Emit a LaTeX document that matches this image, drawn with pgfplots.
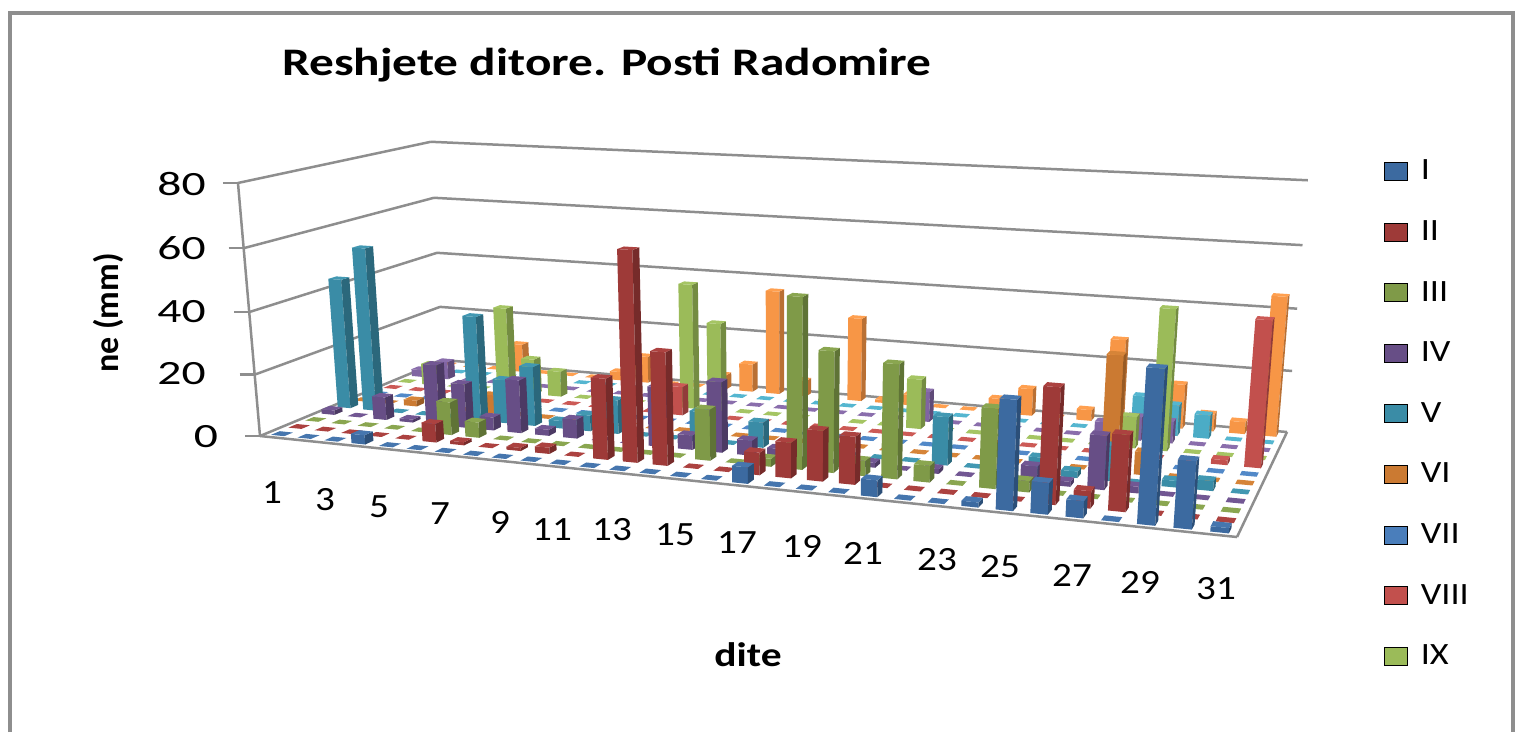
\documentclass[border=0pt]{standalone}
\usepackage{pgfplots}
\usepackage{pgfplotstable}
\usepackage{fontspec}
\setmainfont{Carlito}
\pgfplotsset{compat=1.18}
% daily precipitation (mm) per month
\pgfplotstableread{
day I II III IV V VI VII VIII IX X XI XII
1 0 0 0 1.5 43.5 0 0 0 0 2.5 0 0
2 0 0 0 0 54.4 0 0 0 7.3 6.2 0 0
3 0 0 0 7.6 0 2 0 0 0 0 0 0
4 3 0 0 1 0 0 0 0 0 0 0 10
5 0 0 0 19.9 0 0 0 0 29.3 0 0 0
6 0 6 10.7 14.4 34.5 6.2 0 0 12.2 0 0 0
7 0 1 5 4.3 14.4 0 0 0 8.7 0 0 0
8 0 0 0 17.3 19.5 0 0 0 0 0 0 3
9 0 1 0 2 2.5 0 0 0 0 0 0 9.3
10 0 2 0 6.2 5.2 0 0 0 0 0 0 0
11 0 0 0 0 11 0 0 0 0 0 0 0
12 0 25.3 0 0 0 0 0 9.6 41.9 0 0 5
13 0 64.7 0 19 0 0 0 0 29.5 0 0 9.6
14 0 34.9 0 4.6 9.7 0 0 0 0 0 0 35.7
15 0 0 16 22.3 0 0 0 0 0 0 0 5.4
16 0 0 0 4.8 8.1 0 0 0 0 0 0 0
17 5 6.9 2.5 3 0 0 0 0 0 0 0 28.4
18 0 10.9 52.3 0 0 0 0 0 0 0 0 1
19 0 15.4 36.9 0 0 0 0 0 0 0 0 3.6
20 0 14.5 4.7 1.5 0 0 0 0 16.3 10 0 0
21 5 0 34.6 0 0 0 0 0 0 0 0 0
22 0 0 5.1 1.5 15 0 0 0 0 0 0 4.8
23 0 0 0 0 0 0 0 0 0 0 0 9
24 1.5 0 24 0 0 0 0 0 0 0 0 0
25 31.9 0 3.4 5.2 5.2 0 0 0 0 0 0 3.6
26 9.2 34 0 1.5 2 0 0 0 0 5 0 27.6
27 5 5.1 0 16.2 10.7 35.6 0 0 10 7.6 12 0
28 0 22.2 0 2 0 7 0 0 44.5 7 10 14.5
29 43.7 0 0 0 2 0 0 0 0 0 7.6 5.6
30 19.2 0 0 0 3 0 0 1.5 0 0 0 3.9
31 1.5 0 0 0 0 0 0 45 0 0 0 44.9
}\rain

% front face, side face, top face colours
\definecolor{F1}{HTML}{3C6AA0}\definecolor{S1}{HTML}{2C4F78}\definecolor{T1}{HTML}{4676AE}
\definecolor{F2}{HTML}{9E3A38}\definecolor{S2}{HTML}{762B2A}\definecolor{T2}{HTML}{AC4240}
\definecolor{F3}{HTML}{7F9A48}\definecolor{S3}{HTML}{5F7336}\definecolor{T3}{HTML}{8AA650}
\definecolor{F4}{HTML}{674E86}\definecolor{S4}{HTML}{4C3A64}\definecolor{T4}{HTML}{725793}
\definecolor{F5}{HTML}{3A8CA6}\definecolor{S5}{HTML}{2B687C}\definecolor{T5}{HTML}{4298B2}
\definecolor{F6}{HTML}{CB7A32}\definecolor{S6}{HTML}{985B25}\definecolor{T6}{HTML}{D68438}
\definecolor{F7}{HTML}{4A7EBB}\definecolor{S7}{HTML}{375E8C}\definecolor{T7}{HTML}{5289C8}
\definecolor{F8}{HTML}{C2504D}\definecolor{S8}{HTML}{913C3A}\definecolor{T8}{HTML}{CC5A56}
\definecolor{F9}{HTML}{9BBB59}\definecolor{S9}{HTML}{748C42}\definecolor{T9}{HTML}{A5C563}
\definecolor{F10}{HTML}{8064A2}\definecolor{S10}{HTML}{604B79}\definecolor{T10}{HTML}{8A6EAC}
\definecolor{F11}{HTML}{4BACC6}\definecolor{S11}{HTML}{388194}\definecolor{T11}{HTML}{55B6D0}
\definecolor{F12}{HTML}{F79646}\definecolor{S12}{HTML}{B97034}\definecolor{T12}{HTML}{FFA050}
\definecolor{gridg}{HTML}{8E8E8E}

% projection of (u,v,w) on the picture
\newcommand\proj[5]{%
  \pgfmathsetmacro\dd{1-0.16157*(#1)+0.16715*(#2)-0.0403*(#3)}%
  \pgfmathsetmacro#4{(777.13*(#1)+257.05*(#2)+260-31.59*(#3))/\dd}%
  \pgfmathsetmacro#5{(14.24*(#1)-15.83*(#2)+436-260.4*(#3))/\dd}%
}
\newcommand\lineplot[7][gridg]{% colour, u v w -- u v w
  \proj{#2}{#3}{#4}\xa\ya \proj{#5}{#6}{#7}\xb\yb
  \edef\tmp{\noexpand\addplot[#1,line width=1.25pt,forget plot] coordinates {(\xa,\ya) (\xb,\yb)};}\tmp
}
\newcommand\poly[2]{%
  \edef\tmp{\noexpand\addplot[fill=#1,draw=none,forget plot] coordinates {#2};}\tmp
}
\newcommand\onebar[3]{% row, day, value
  \pgfmathsetmacro\ul{(#2-0.75)/31}\pgfmathsetmacro\ur{(#2-0.25)/31}%
  \pgfmathsetmacro\vf{(#1-0.75)/12}\pgfmathsetmacro\vb{(#1-0.25)/12}%
  \pgfmathsetmacro\ww{#3/80}%
  \proj\ul\vf\ww\xA\yA \proj\ur\vf\ww\xB\yB \proj\ur\vb\ww\xC\yC \proj\ul\vb\ww\xD\yD
  \ifdim#3pt>0pt
    \proj\ul\vf{0}\xE\yE \proj\ur\vf{0}\xF\yF \proj\ur\vb{0}\xG\yG
    \poly{F#1}{(\xE,\yE) (\xF,\yF) (\xB,\yB) (\xA,\yA)}%
    \poly{S#1}{(\xF,\yF) (\xG,\yG) (\xC,\yC) (\xB,\yB)}%
  \fi
  \poly{T#1}{(\xA,\yA) (\xB,\yB) (\xC,\yC) (\xD,\yD)}%
}
\newcommand\lab[4][1]{\node[font=\fontsize{#2}{#2}\selectfont,inner sep=0pt] at (axis cs:#3) {\scalebox{#1}[1]{#4}};}

\begin{document}
\begin{tikzpicture}
\begin{axis}[
  scale only axis, width=757.5pt, height=366pt,
  xmin=0, xmax=1515, ymin=0, ymax=732, y dir=reverse,
  hide axis, clip=false,
  legend style={draw=none,fill=none,at={(axis cs:1384,160)},anchor=north west,
    row sep=18.85pt,inner sep=0pt,outer sep=0pt,
    font=\fontsize{15.5}{15.5}\selectfont,
    nodes={inner sep=0pt,outer sep=0pt,anchor=west}},
  legend cell align=left,
  legend image code/.code={\fill[#1] (0pt,-4.5pt) rectangle (11.5pt,4.5pt);},
]
% frame
\addplot[draw=none,forget plot] coordinates {(0,0) (1515,732)};
\addplot[gridg,line width=1.7pt,forget plot] coordinates {(10,732) (10,13) (1513,13) (1513,732)};

\addlegendimage{fill=F1}\addlegendentry{\hspace*{6.5pt}\scalebox{1.17}[1]{I}}
\addlegendimage{fill=F2}\addlegendentry{\hspace*{6.5pt}\scalebox{1.17}[1]{II}}
\addlegendimage{fill=F3}\addlegendentry{\hspace*{6.5pt}\scalebox{1.17}[1]{III}}
\addlegendimage{fill=F4}\addlegendentry{\hspace*{6.5pt}\scalebox{1.17}[1]{IV}}
\addlegendimage{fill=F5}\addlegendentry{\hspace*{6.5pt}\scalebox{1.17}[1]{V}}
\addlegendimage{fill=F6}\addlegendentry{\hspace*{6.5pt}\scalebox{1.17}[1]{VI}}
\addlegendimage{fill=F7}\addlegendentry{\hspace*{6.5pt}\scalebox{1.17}[1]{VII}}
\addlegendimage{fill=F8}\addlegendentry{\hspace*{6.5pt}\scalebox{1.17}[1]{VIII}}
\addlegendimage{fill=F9}\addlegendentry{\hspace*{6.5pt}\scalebox{1.17}[1]{IX}}

% walls
\foreach \lv in {0,0.25,0.5,0.75,1}{
  \lineplot{0}{0}{\lv}{0}{1}{\lv}
  \lineplot{0}{1}{\lv}{1}{1}{\lv}
  \proj{0}{0}{\lv}\xa\ya
  \pgfmathsetmacro\xb{\xa-15}
  \edef\tmp{\noexpand\addplot[gridg,line width=1.25pt,forget plot] coordinates {(\xb,\ya) (\xa,\ya)};}\tmp
}
\lineplot{0}{0}{0}{0}{0}{1}
\lineplot{0}{0}{0}{1}{0}{0}
\lineplot{1}{0}{0}{1}{1}{0}

% bars, back row first
\foreach \r/\m in {12/XII,11/XI,10/X,9/IX,8/VIII,7/VII,6/VI,5/V,4/IV,3/III,2/II,1/I}{
  \foreach \d in {1,...,31}{
    \pgfmathtruncatemacro\idx{\d-1}
    \pgfplotstablegetelem{\idx}{\m}\of\rain
    \let\val\pgfplotsretval
    \onebar{\r}{\d}{\val}
  }
}

% texts
\lab[1.265]{19.5}{607,65}{\textbf{Reshjete ditore. Posti Radomire}}
\lab[1.4]{17}{181.5,184}{80}
\lab[1.4]{17}{181.5,248}{60}
\lab[1.4]{17}{181.5,312}{40}
\lab[1.4]{17}{181.5,374}{20}
\lab[1.4]{17}{206,437}{0}
\lab[1.15]{17}{272,493}{1}
\lab[1.15]{17}{325,500}{3}
\lab[1.15]{17}{379,507}{5}
\lab[1.15]{17}{440,514}{7}
\lab[1.15]{17}{500,522}{9}
\lab[1.15]{17}{552,530}{11}
\lab[1.15]{17}{612,530}{13}
\lab[1.15]{17}{675,535}{15}
\lab[1.15]{17}{737,543}{17}
\lab[1.15]{17}{802,546}{19}
\lab[1.15]{17}{863,553}{21}
\lab[1.15]{17}{937,560}{23}
\lab[1.15]{17}{1000,567}{25}
\lab[1.15]{17}{1072,575}{27}
\lab[1.15]{17}{1140,582}{29}
\lab[1.15]{17}{1216,589}{31}
\lab[1.22]{17}{748,655}{\textbf{dite}}
\node[font=\fontsize{17}{17}\selectfont,inner sep=0pt,rotate=90] at (axis cs:108,313) {\textbf{ne (mm)}};
\end{axis}
\end{tikzpicture}
\end{document}
